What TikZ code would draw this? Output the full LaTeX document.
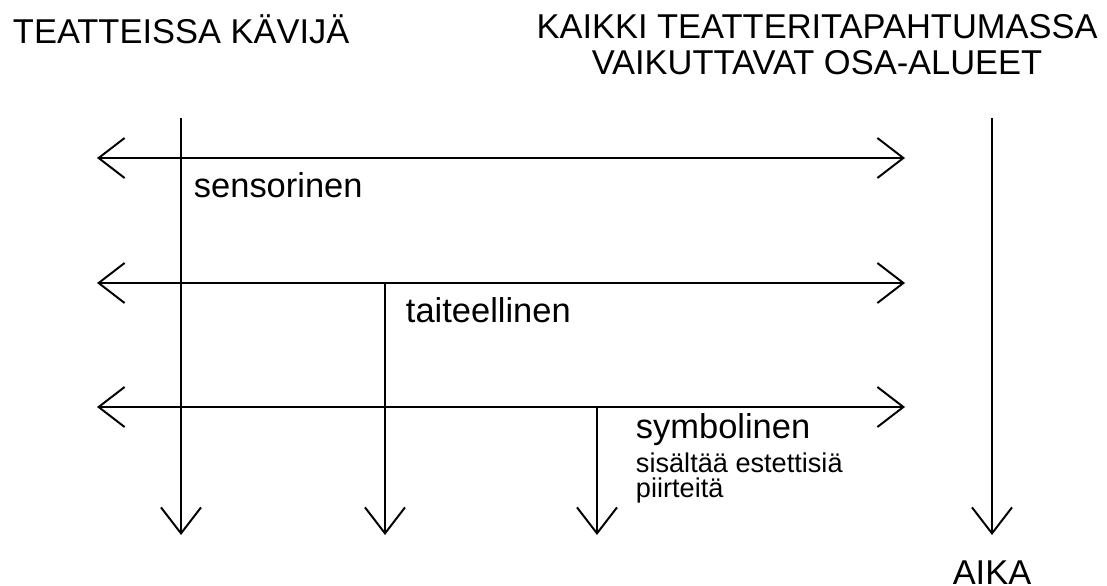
\documentclass[tikz,border=0pt]{standalone}
\usepackage{fontspec}
\setmainfont{Liberation Sans}
\usepackage{tikz}
\usetikzlibrary{arrows.meta}
\usetikzlibrary{positioning}
\tikzset{
    barb/.tip={Straight Barb[length=6.5mm,width=10mm]},
    twoway/.style={draw=black, barb-barb},
    oneway/.style={draw=black, -barb},
    heading/.style={font=\fontsize{24.5}{25.6}\selectfont, inner sep=0pt},
    level/.style={font=\fontsize{24.5}{25.6}\selectfont, inner sep=0pt, anchor=base west},
    note/.style={font=\fontsize{19.3}{17.8}\selectfont, inner sep=0pt, anchor=base west},
}

\begin{document}
\begin{tikzpicture}[x=0.025cm, y=-0.025cm, line width=1.4pt]
	\useasboundingbox (0,0) rectangle (1107,586);
	% headings
	\node[heading, anchor=base west] (visitor) at (12,43) {TEATTEISSA KÄVIJÄ};
	\node[heading, anchor=base] (areas1) at (817,38) {KAIKKI TEATTERITAPAHTUMASSA};
	\node[heading, anchor=base] (areas2) at (817,74) {VAIKUTTAVAT OSA-ALUEET};
	% horizontal levels
	\coordinate (l1) at (97,158);  \coordinate (r1) at (905,158);
	\coordinate (l2) at (97,283);  \coordinate (r2) at (905,283);
	\coordinate (l3) at (97,407);  \coordinate (r3) at (905,407);
	\draw[twoway] (l1) -- (r1);
	\draw[twoway] (l2) -- (r2);
	\draw[twoway] (l3) -- (r3);
	% vertical lines
	\coordinate (t1) at (181,118); \coordinate (b1) at (181,535);
	\coordinate (t2) at (385,283); \coordinate (b2) at (385,535);
	\coordinate (t3) at (597,407); \coordinate (b3) at (597,535);
	\coordinate (t4) at (992,118); \coordinate (b4) at (992,535);
	\draw[oneway] (t1) -- (b1);
	\draw[oneway] (t2) -- (b2);
	\draw[oneway] (t3) -- (b3);
	\draw[oneway] (t4) -- (b4);
	% level names
	\node[level] (sens) at (193,197) {sensorinen};
	\node[level] (taid) at (405,322) {taiteellinen};
	\node[level] (symb) at (635,438) {symbolinen};
	\node[note] (sis) at (635,472) {sisältää estettisiä};
	\node[note] (piir) at (635,497) {piirteitä};
	\node[heading, anchor=base] (aika) at (992,584) {AIKA};
\end{tikzpicture}
\end{document}
